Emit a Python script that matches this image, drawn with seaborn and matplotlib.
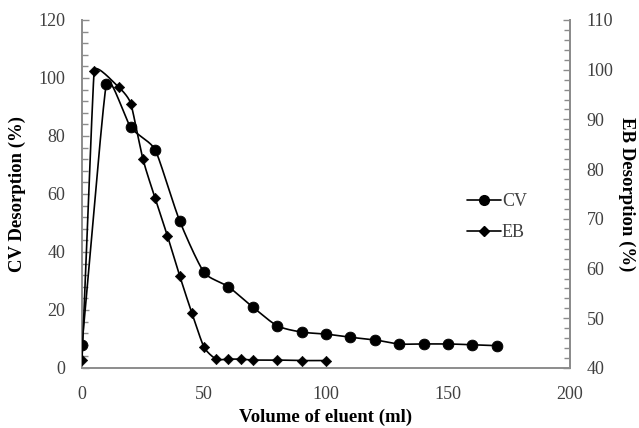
import numpy as np
import matplotlib
matplotlib.use("Agg")
import matplotlib.pyplot as plt
from matplotlib.lines import Line2D
from matplotlib.ticker import MultipleLocator
import seaborn as sns

# Crystal violet (CV) desorption profile
cv_volume = [0, 10, 20, 30, 40, 50, 60, 70, 80, 90, 100, 110, 120, 130, 140, 150, 160, 170]
cv_desorption = [8, 98, 83, 75.2, 50.8, 33, 28, 21, 14.6, 12.4, 11.7, 10.6, 9.7, 8.3, 8.3, 8.3, 8.0, 7.7]

# Ethidium bromide (EB) desorption profile
eb_volume = [0, 5, 15, 20, 25, 30, 35, 40, 45, 50, 55, 60, 65, 70, 80, 90, 100]
eb_desorption = [41.6, 99.8, 96.5, 93.2, 82, 74.1, 66.6, 58.6, 51.1, 44.2, 41.8, 41.8, 41.8, 41.6, 41.6, 41.5, 41.5]

X_RANGE = (0, 200)
CV_RANGE = (0, 120)
EB_RANGE = (40, 110)
AX_W, AX_H = 488, 348  # axes size in pixels


def smooth_curve(x, y, yrange, k=0.3, steps=30):
    """Smoothed Bezier path through the points, shaped in screen proportions.

    Each point's control arms follow the direction between its neighbours and
    are scaled by the shorter adjacent segment, which keeps long runs straight.
    """
    sx = AX_W / (X_RANGE[1] - X_RANGE[0])
    sy = AX_H / (yrange[1] - yrange[0])
    p = np.column_stack([np.asarray(x, float) * sx, np.asarray(y, float) * sy])
    n = len(p)
    seg_len = np.hypot(*(np.diff(p, axis=0).T))
    tang = np.zeros_like(p)
    arm = np.zeros(n)
    for i in range(n):
        a = p[max(i - 1, 0)]
        b = p[min(i + 1, n - 1)]
        d = b - a
        norm = np.hypot(*d)
        tang[i] = d / norm if norm > 0 else 0
        neighbours = [seg_len[j] for j in (i - 1, i) if 0 <= j < n - 1]
        arm[i] = k * min(neighbours)
    out = []
    for i in range(n - 1):
        p1, p2 = p[i], p[i + 1]
        c1 = p1 + tang[i] * arm[i]
        c2 = p2 - tang[i + 1] * arm[i + 1]
        t = np.linspace(0, 1, steps, endpoint=(i == n - 2))[:, None]
        seg = ((1 - t) ** 3) * p1 + 3 * ((1 - t) ** 2) * t * c1 + 3 * (1 - t) * t ** 2 * c2 + t ** 3 * p2
        out.append(seg)
    s = np.vstack(out)
    return s[:, 0] / sx, s[:, 1] / sy


sns.set_style("white")
plt.rcParams["font.family"] = ["Liberation Serif", "DejaVu Serif"]

fig = plt.figure(figsize=(6.39, 4.28), dpi=100)
ax = fig.add_axes([82 / 639, 1 - 368 / 428, AX_W / 639, AX_H / 428])
ax2 = ax.twinx()

line_kw = dict(color="black", linewidth=1.2)

cx, cy = smooth_curve(cv_volume, cv_desorption, CV_RANGE)
sns.lineplot(x=cx, y=cy, ax=ax, sort=False, estimator=None, **line_kw)
sns.scatterplot(x=cv_volume, y=cv_desorption, ax=ax, marker="o", s=60,
                color="black", edgecolor="black", zorder=3)

ex, ey = smooth_curve(eb_volume, eb_desorption, EB_RANGE)
sns.lineplot(x=ex, y=ey, ax=ax2, sort=False, estimator=None, **line_kw)
sns.scatterplot(x=eb_volume, y=eb_desorption, ax=ax2, marker="D", s=28,
                color="black", edgecolor="black", zorder=3)

ax.set_xlim(*X_RANGE)
ax.set_ylim(*CV_RANGE)
ax2.set_ylim(*EB_RANGE)

ax.xaxis.set_major_locator(MultipleLocator(50))
ax.xaxis.set_minor_locator(MultipleLocator(10))
ax.yaxis.set_major_locator(MultipleLocator(20))
ax.yaxis.set_minor_locator(MultipleLocator(4))
ax2.yaxis.set_major_locator(MultipleLocator(10))
ax2.yaxis.set_minor_locator(MultipleLocator(2))

spine_color = "#8c8c8c"
tick_label_color = "#404040"
for a in (ax, ax2):
    for name, sp in a.spines.items():
        sp.set_color(spine_color)
        sp.set_linewidth(1.4)
    a.spines["top"].set_visible(False)
    a.tick_params(which="both", direction="in", color=spine_color, width=1.0,
                  labelsize=13, labelcolor=tick_label_color, pad=12)
    a.tick_params(which="major", length=5)
    a.tick_params(which="minor", length=4)
    a.grid(False)

ax.tick_params(axis="x", pad=13)
ax.tick_params(axis="y", which="both", right=False)
ax.tick_params(axis="x", which="both", top=False)
ax2.spines["left"].set_visible(False)
ax2.spines["bottom"].set_visible(False)

label_kw = dict(fontsize=13.5, fontweight="bold", color="black")
ax.set_xlabel("Volume of eluent (ml)", labelpad=4, **label_kw)
ax.set_ylabel("CV Desorption (%)", labelpad=9, **label_kw)
ax2.set_ylabel("EB Desorption (%)", rotation=270, labelpad=16, **label_kw)

handles = [
    Line2D([], [], color="black", linewidth=1.2, marker="o", markersize=7),
    Line2D([], [], color="black", linewidth=1.2, marker="D", markersize=5),
]
ax.legend(handles, ["CV", "EB"], loc="upper left", bbox_to_anchor=(0.755, 0.55),
          frameon=False, fontsize=13, handlelength=1.9, handletextpad=0.05,
          labelspacing=0.8, labelcolor=tick_label_color)

fig.savefig("out.png", dpi=100)
